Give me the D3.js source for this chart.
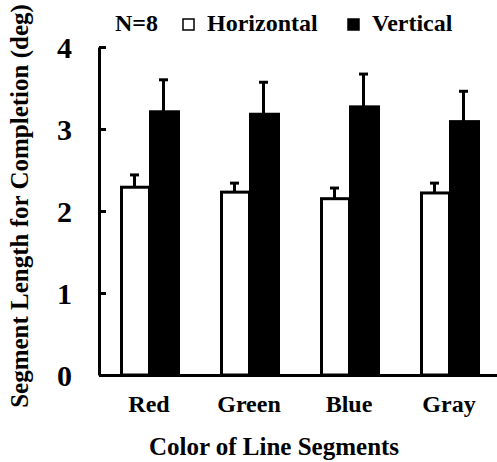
<!DOCTYPE html>
<html>
<head>
<meta charset="utf-8">
<script src="https://cdn.jsdelivr.net/npm/d3@7"></script>
<style>
  body { margin: 0; background: #fff; }
  text { font-family: "Liberation Serif", "Times New Roman", serif; font-weight: bold; fill: #000; }
</style>
</head>
<body>
<script>
// data
var categories = ["Red", "Green", "Blue", "Gray"];
var series = ["Horizontal", "Vertical"];
var horizontalMean = [2.29, 2.23, 2.15, 2.22];
var horizontalErr = [0.15, 0.11, 0.13, 0.12];
var verticalMean = [3.21, 3.18, 3.27, 3.09];
var verticalErr = [0.39, 0.39, 0.40, 0.37];
var yTicks = [0, 1, 2, 3, 4];

var w = 497, h = 462;

var svg = d3.select("body")
  .append("svg")
  .attr("width", w)
  .attr("height", h);

// scales
var x0 = d3.scaleBand()
  .domain(categories)
  .range([99, 499])
  .paddingInner(0.42)
  .paddingOuter(0.21);

var x1 = d3.scaleBand()
  .domain(series)
  .range([0, x0.bandwidth()]);

var y = d3.scaleLinear()
  .domain([0, 4])
  .range([375, 47]);

var rows = categories.map(function(c, i) {
  return [
    {cat: c, s: "Horizontal", v: horizontalMean[i], e: horizontalErr[i]},
    {cat: c, s: "Vertical", v: verticalMean[i], e: verticalErr[i]}
  ];
});

var groups = svg.selectAll("g.grp")
  .data(rows)
  .enter()
  .append("g")
  .attr("class", "grp")
  .attr("transform", function(d) { return "translate(" + x0(d[0].cat) + ",0)"; });

// error bars first so bars sit on top
groups.selectAll("line.err")
  .data(function(d) { return d; })
  .enter()
  .append("line")
  .attr("class", "err")
  .attr("x1", function(d) { return x1(d.s) + x1.bandwidth() / 2; })
  .attr("x2", function(d) { return x1(d.s) + x1.bandwidth() / 2; })
  .attr("y1", function(d) { return y(d.v); })
  .attr("y2", function(d) { return y(d.v + d.e); })
  .attr("stroke", "#000")
  .attr("stroke-width", 3);

groups.selectAll("line.cap")
  .data(function(d) { return d; })
  .enter()
  .append("line")
  .attr("class", "cap")
  .attr("x1", function(d) { return x1(d.s) + x1.bandwidth() / 2 - 4.5; })
  .attr("x2", function(d) { return x1(d.s) + x1.bandwidth() / 2 + 4.5; })
  .attr("y1", function(d) { return y(d.v + d.e); })
  .attr("y2", function(d) { return y(d.v + d.e); })
  .attr("stroke", "#000")
  .attr("stroke-width", 3);

groups.selectAll("rect")
  .data(function(d) { return d; })
  .enter()
  .append("rect")
  .attr("x", function(d) { return x1(d.s) + 1.5; })
  .attr("y", function(d) { return y(d.v); })
  .attr("width", x1.bandwidth() - 1)
  .attr("height", function(d) { return y(0) - y(d.v); })
  .attr("fill", function(d) { return d.s == "Horizontal" ? "#fff" : "#000"; })
  .attr("stroke", "#000")
  .attr("stroke-width", 3);

// axes
var yAxis = d3.axisLeft(y)
  .tickValues(yTicks)
  .tickFormat(d3.format("d"))
  .tickSizeInner(-7)
  .tickSizeOuter(0)
  .tickPadding(27);

var gy = svg.append("g")
  .attr("transform", "translate(99,0)")
  .call(yAxis);
gy.selectAll("path, line").attr("stroke", "#000").attr("stroke-width", 3);
gy.selectAll("text")
  .style("font-family", "'Liberation Serif', serif")
  .style("font-weight", "bold")
  .style("font-size", "30px")
  .attr("dy", "0.34em");

var xAxis = d3.axisBottom(x0)
  .tickSize(0)
  .tickPadding(20);

var gx = svg.append("g")
  .attr("transform", "translate(0,375)")
  .call(xAxis);
gx.select("path").attr("stroke", "#000").attr("stroke-width", 3);
gx.selectAll("text")
  .style("font-family", "'Liberation Serif', serif")
  .style("font-weight", "bold")
  .style("font-size", "24px");

// axis titles
svg.append("text")
  .attr("x", 274)
  .attr("y", 455)
  .attr("text-anchor", "middle")
  .style("font-size", "25px")
  .text("Color of Line Segments");

svg.append("text")
  .attr("transform", "translate(28,206) rotate(-90)")
  .attr("text-anchor", "middle")
  .style("font-size", "25px")
  .text("Segment Length for Completion (deg)");

// legend
svg.append("text")
  .attr("x", 115)
  .attr("y", 31)
  .style("font-size", "24px")
  .text("N=8");

var legendX = [182, 347];
var leg = svg.selectAll("g.leg")
  .data(series)
  .enter()
  .append("g")
  .attr("class", "leg")
  .attr("transform", function(d, i) { return "translate(" + legendX[i] + ",0)"; });

leg.append("rect")
  .attr("x", 1)
  .attr("y", 19)
  .attr("width", 11)
  .attr("height", 11)
  .attr("fill", function(d) { return d == "Horizontal" ? "#fff" : "#000"; })
  .attr("stroke", "#000")
  .attr("stroke-width", 1.5);

leg.append("text")
  .attr("x", 25)
  .attr("y", 31)
  .style("font-size", "24px")
  .text(function(d) { return d; });
</script>
</body>
</html>
